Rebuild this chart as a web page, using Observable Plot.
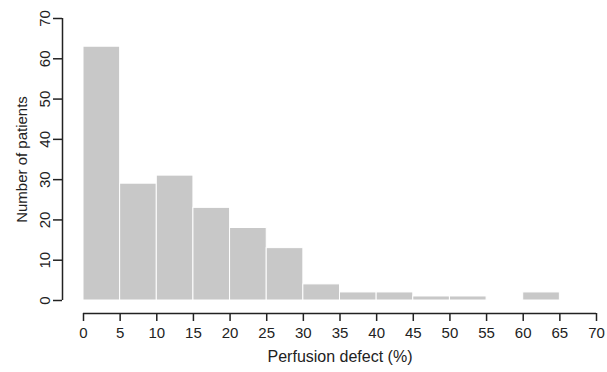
<!DOCTYPE html>
<html>
<head>
<meta charset="utf-8">
<script src="https://cdn.jsdelivr.net/npm/d3@7"></script>
<script src="https://cdn.jsdelivr.net/npm/@observablehq/plot@0.6"></script>
<style>
  html, body { margin: 0; padding: 0; background: #fff; }
  svg { display: block; }
</style>
</head>
<body>
<div id="chart"></div>
<script>
const binStart = [0, 5, 10, 15, 20, 25, 30, 35, 40, 45, 50, 55, 60];
const binEnd   = [5, 10, 15, 20, 25, 30, 35, 40, 45, 50, 55, 60, 65];
const counts   = [63, 29, 31, 23, 18, 13, 4, 2, 2, 1, 1, 0, 2];
const xTicks = [0, 5, 10, 15, 20, 25, 30, 35, 40, 45, 50, 55, 60, 65, 70];
const yTicks = [0, 10, 20, 30, 40, 50, 60, 70];
const xTitle = "Perfusion defect (%)";
const yTitle = "Number of patients";

const bins = binStart.map((s, i) => ({x1: s, x2: binEnd[i], y: counts[i]})).filter(d => d.y > 0);
const axisColor = "#222";

const chart = Plot.plot({
  width: 607,
  height: 372,
  marginLeft: 83,
  marginRight: 11,
  marginTop: 18,
  marginBottom: 72,
  style: {fontFamily: "'Liberation Sans', Arial, sans-serif", fontSize: "15px", color: axisColor, background: "#fff"},
  x: {domain: [0, 70]},
  y: {domain: [0, 70]},
  marks: [
    Plot.rectY(bins, {x1: "x1", x2: "x2", y: "y", fill: "#c8c8c8", stroke: "#ffffff", strokeWidth: 1}),
    // y axis
    Plot.ruleX([0], {y1: 0, y2: 70, dx: -21, stroke: axisColor, strokeWidth: 1.5}),
    Plot.axisY(yTicks, {anchor: "left", dx: -21, tickSize: 9, tickPadding: 4, tickRotate: -90, label: null, stroke: axisColor, strokeWidth: 1.5, fontSize: 15}),
    // x axis
    Plot.ruleY([0], {x1: 0, x2: 70, dy: 13, stroke: axisColor, strokeWidth: 1.5}),
    Plot.axisX(xTicks, {anchor: "bottom", dy: 13, tickSize: 8, tickPadding: 6, label: null, stroke: axisColor, strokeWidth: 1.5, fontSize: 15}),
    // titles
    Plot.text([xTitle], {frameAnchor: "bottom", dy: 61, fontSize: 16, fill: axisColor}),
    Plot.text([yTitle], {frameAnchor: "left", textAnchor: "middle", dx: -61, rotate: -90, fontSize: 15, fill: axisColor})
  ]
});
document.getElementById("chart").appendChild(chart);
</script>
</body>
</html>
